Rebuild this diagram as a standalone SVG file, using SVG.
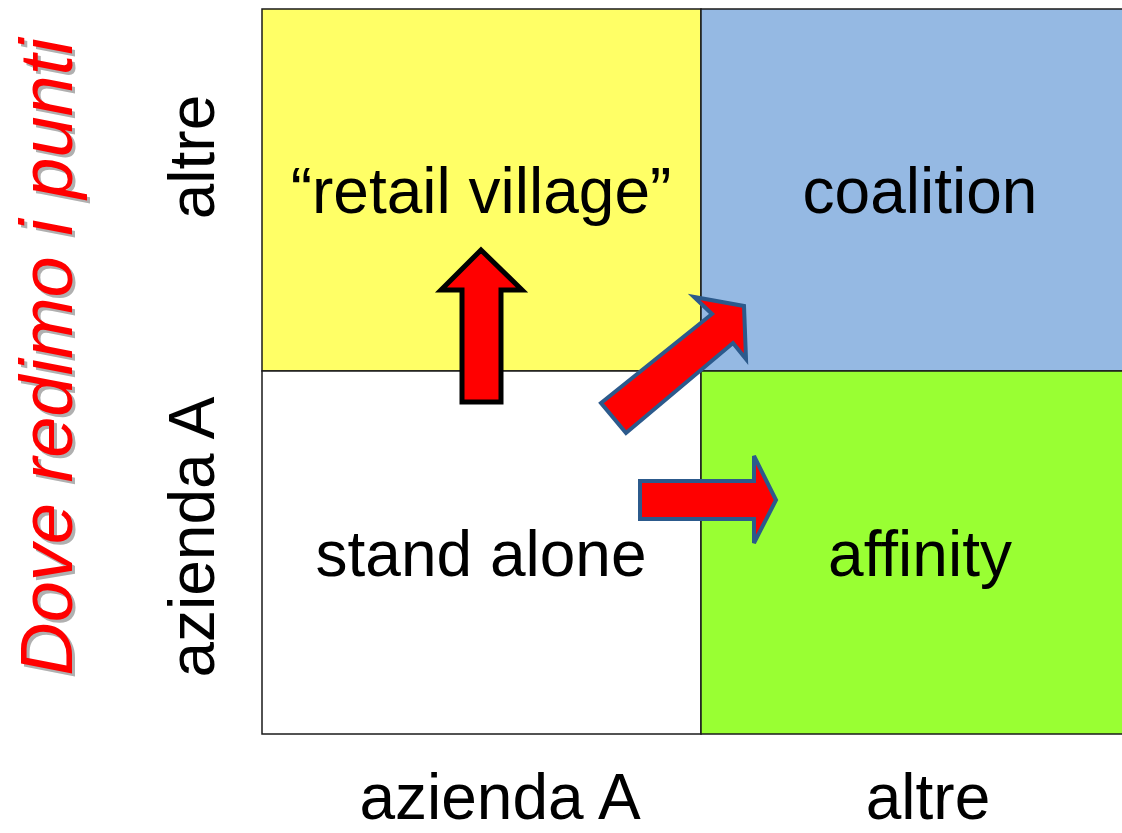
<svg xmlns="http://www.w3.org/2000/svg" width="1122" height="833" viewBox="0 0 1122 833">
<style>
.cell{stroke:#1a1a1a;stroke-width:1.5}
.lbl{font-family:"Liberation Sans",Arial,sans-serif;font-size:64px;fill:#000;text-anchor:middle}
.arrB{fill:#ff0000;stroke:#2c5a8c;stroke-width:4;stroke-linejoin:miter}
.arrK{fill:#ff0000;stroke:#000;stroke-width:5;stroke-linejoin:miter}
.title{font-family:"Liberation Sans",Arial,sans-serif;font-size:74px;font-style:italic;text-anchor:middle}
</style>
<rect width="1122" height="833" fill="#ffffff"/>
<g id="title">
<text class="title" transform="translate(75,360) rotate(-90)" fill="#b0b0b0">Dove redimo i punti</text>
<text class="title" transform="translate(72,357) rotate(-90)" fill="#ff0000">Dove redimo i punti</text>
</g>
<g id="axis-y">
<text class="lbl" transform="translate(214,157) rotate(-90)">altre</text>
<text class="lbl" transform="translate(214,537) rotate(-90)">azienda A</text>
</g>
<g id="axis-x">
<text class="lbl" x="500" y="819">azienda A</text>
<text class="lbl" x="928" y="819">altre</text>
</g>
<g id="retail-village">
<rect class="cell" x="262" y="9" width="439" height="362" fill="#ffff66"/>
<text class="lbl" x="481" y="213">“retail village”</text>
</g>
<g id="coalition">
<rect class="cell" x="701" y="9" width="425" height="362" fill="#95b9e3"/>
<text class="lbl" x="920" y="213">coalition</text>
</g>
<g id="stand-alone">
<rect class="cell" x="262" y="371" width="439" height="363" fill="#ffffff"/>
<text class="lbl" x="481" y="576">stand alone</text>
</g>
<g id="affinity">
<rect class="cell" x="701" y="371" width="425" height="363" fill="#99ff33"/>
<text class="lbl" x="920" y="576">affinity</text>
</g>
<g id="connectors">
<polygon class="arrK" points="481,250 522,290 501,290 501,402 462,402 462,290 441,290"/>
<polygon class="arrB" points="601,403 712,314 694,297 744,306 746,359 733,343 626,433"/>
<polygon class="arrB" points="640,481 754,481 754,456 776,500 754,543 754,519 640,519"/>
</g>
</svg>
